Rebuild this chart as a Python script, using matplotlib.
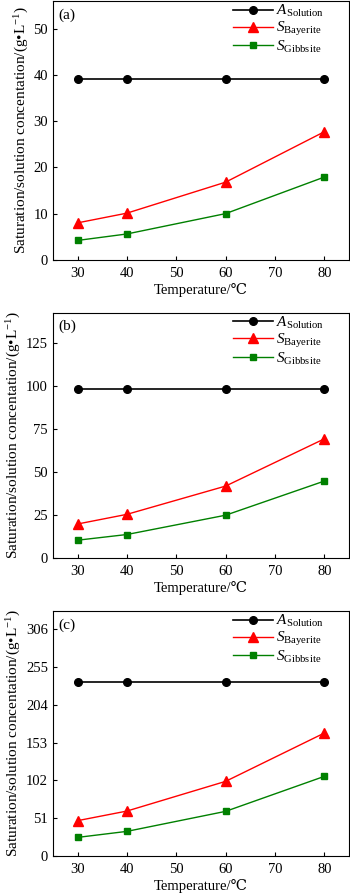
import matplotlib.pyplot as plt
import numpy as np

plt.rcParams['font.family'] = ['Liberation Serif', 'DejaVu Serif']
plt.rcParams['mathtext.fontset'] = 'custom'
plt.rcParams['mathtext.rm'] = 'Liberation Serif'
plt.rcParams['mathtext.it'] = 'Liberation Serif:italic'

temps = [30, 40, 60, 80]

# panel (a)
a_solution = [39.2, 39.2, 39.2, 39.2]
a_bayerite = [8.0, 10.1, 16.8, 27.7]
a_gibbsite = [4.2, 5.6, 10.0, 17.9]

# panel (b)
b_solution = [98.0, 98.0, 98.0, 98.0]
b_bayerite = [19.8, 25.4, 41.8, 69.2]
b_gibbsite = [10.4, 13.7, 24.9, 44.7]

# panel (c)
c_solution = [234.8, 234.8, 234.8, 234.8]
c_bayerite = [48.0, 60.9, 100.8, 165.7]
c_gibbsite = [25.5, 33.6, 60.5, 107.5]

panels = [
    ("(a)", a_solution, a_bayerite, a_gibbsite, [0, 10, 20, 30, 40, 50], 56.0),
    ("(b)", b_solution, b_bayerite, b_gibbsite, [0, 25, 50, 75, 100, 125], 142.5),
    ("(c)", c_solution, c_bayerite, c_gibbsite, [0, 51, 102, 153, 204, 255, 306], 330.0),
]
positions = [
    [0.151, 0.709, 0.846, 0.290],
    [0.151, 0.375, 0.846, 0.275],
    [0.151, 0.041, 0.846, 0.275],
]

fig = plt.figure(figsize=(3.5, 8.93), dpi=100)

for (tag, sol, bay, gib, yticks, ytop), pos in zip(panels, positions):
    ax = fig.add_axes(pos)
    ax.plot(temps, sol, color='black', marker='o', markersize=5.5, linewidth=1.2,
            label=r'$\mathit{A}_{\mathrm{Solution}}$')
    ax.plot(temps, bay, color='red', marker='^', markersize=6.5, linewidth=1.0,
            label=r'$\mathit{S}_{\mathrm{Bayerite}}$')
    ax.plot(temps, gib, color='#008000', marker='s', markersize=5, linewidth=1.0,
            label=r'$\mathit{S}_{\mathrm{Gibbsite}}$')
    ax.set_xlim(25, 85)
    ax.set_ylim(0, ytop)
    ax.set_xticks([30, 40, 50, 60, 70, 80])
    ax.set_yticks(yticks)
    ax.tick_params(direction='in', labelsize=10.5, length=3)
    ax.tick_params(axis='x', pad=5)
    ax.set_xlabel('Temperature/℃', fontsize=10.5, labelpad=2)
    ax.set_ylabel('Saturation/solution concentation/(g•L$^{-1}$)', fontsize=11, labelpad=2)
    ax.text(0.02, 0.97, tag, transform=ax.transAxes, fontsize=11, va='top', ha='left')
    ax.legend(loc='upper left', bbox_to_anchor=(0.6, 1.0), frameon=False, fontsize=11,
              handlelength=2.6, handletextpad=0.2, labelspacing=0.05,
              borderaxespad=0.0, borderpad=0.15)

fig.savefig('out.png', dpi=100)
